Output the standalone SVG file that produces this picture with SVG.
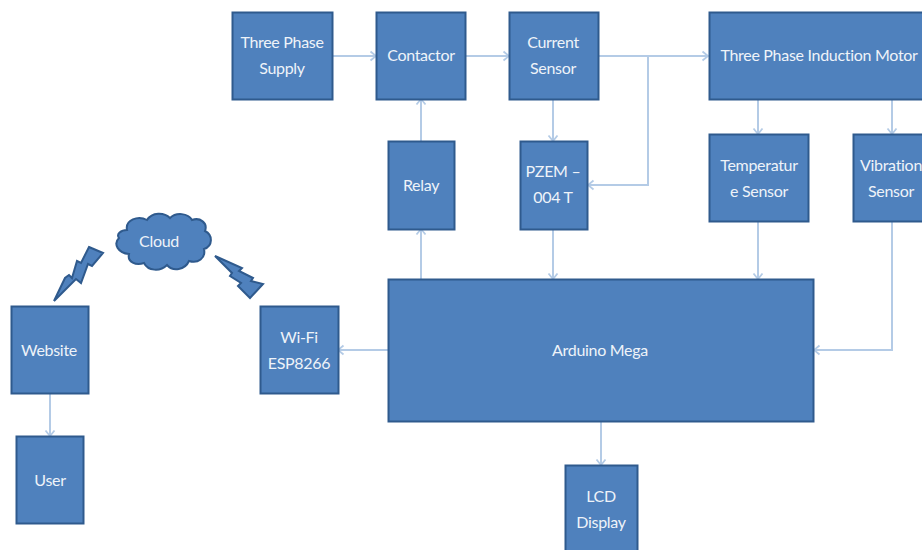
<svg xmlns="http://www.w3.org/2000/svg" width="922" height="550" viewBox="0 0 922 550">
<style>
.b{fill:#4f81bd;stroke:#2f5a8d;stroke-width:2}
.t{font-family:"Lato","Open Sans","Liberation Sans",sans-serif;font-size:16px;letter-spacing:-0.3px;fill:#eef3f9;text-anchor:middle}
.c{fill:none;stroke:#b4cbe6;stroke-width:2}
</style>
<defs>
<marker id="a" markerUnits="userSpaceOnUse" markerWidth="10" markerHeight="12" refX="8.500" refY="6" orient="auto"><path d="M3 1.500L8.500 6L3 10.500" fill="none" stroke="#b4cbe6" stroke-width="1.800"/></marker>
</defs>
<rect width="922" height="550" fill="#fff"/>
<g id="connectors" class="c">
<path d="M333 56H376" marker-end="url(#a)"/>
<path d="M466 56H509" marker-end="url(#a)"/>
<path d="M599 56H708" marker-end="url(#a)"/>
<path d="M648 56V185H588" marker-end="url(#a)"/>
<path d="M553 99V141" marker-end="url(#a)"/>
<path d="M421 141V99" marker-end="url(#a)"/>
<path d="M421 279V229" marker-end="url(#a)"/>
<path d="M553 229V279" marker-end="url(#a)"/>
<path d="M758 99V134" marker-end="url(#a)"/>
<path d="M892 99V134" marker-end="url(#a)"/>
<path d="M758 221V279" marker-end="url(#a)"/>
<path d="M892 221V350H814" marker-end="url(#a)"/>
<path d="M388 350H338" marker-end="url(#a)"/>
<path d="M601 422V465" marker-end="url(#a)"/>
<path d="M50 393V436" marker-end="url(#a)"/>
</g>
<g id="supply"><rect class="b" x="232.500" y="12.500" width="100" height="87"/><text class="t" x="282" y="48">Three Phase</text><text class="t" x="282" y="74">Supply</text></g>
<g id="contactor"><rect class="b" x="376.500" y="12.500" width="89" height="87"/><text class="t" x="421" y="61">Contactor</text></g>
<g id="current"><rect class="b" x="509.500" y="12.500" width="89" height="87"/><text class="t" x="553" y="48">Current</text><text class="t" x="553" y="74">Sensor</text></g>
<g id="motor"><rect class="b" x="709.500" y="12.500" width="240" height="87"/><text class="t" x="819" y="61">Three Phase Induction Motor</text></g>
<g id="relay"><rect class="b" x="388.500" y="141.500" width="66" height="88"/><text class="t" x="421" y="191">Relay</text></g>
<g id="pzem"><rect class="b" x="520.500" y="141.500" width="67" height="88"/><text class="t" x="553" y="177">PZEM –</text><text class="t" x="553" y="203">004 T</text></g>
<g id="temperature"><rect class="b" x="709.500" y="134.500" width="99" height="87"/><text class="t" x="759" y="171">Temperatur</text><text class="t" x="759" y="197">e Sensor</text></g>
<g id="vibration"><rect class="b" x="853.500" y="134.500" width="100" height="87"/><text class="t" x="891" y="171">Vibration</text><text class="t" x="891" y="197">Sensor</text></g>
<g id="arduino"><rect class="b" x="388.500" y="279.500" width="425" height="142"/><text class="t" x="600" y="356">Arduino Mega</text></g>
<g id="wifi"><rect class="b" x="260.500" y="306.500" width="78" height="87"/><text class="t" x="299" y="343">Wi-Fi</text><text class="t" x="299" y="369">ESP8266</text></g>
<g id="website"><rect class="b" x="11.500" y="306.500" width="77" height="87"/><text class="t" x="49" y="356">Website</text></g>
<g id="user"><rect class="b" x="16.500" y="436.500" width="67" height="87"/><text class="t" x="50" y="486">User</text></g>
<g id="lcd"><rect class="b" x="565.500" y="465.500" width="72" height="100"/><text class="t" x="601" y="502">LCD</text><text class="t" x="601" y="528">Display</text></g>
<g id="cloud"><path class="b" d="M127 230C125 220 138 215 147 220C152 212 164 212 170 218C176 212 188 213 192 220C200 217 208 223 205 231C213 235 213 246 204 249C206 258 198 264 189 261C185 270 173 272 167 265C160 272 148 271 144 263C136 266 127 262 129 254C118 253 113 244 119 238C116 234 121 230 127 230Z"/><text class="t" x="159" y="247">Cloud</text></g>
<g id="bolt-left"><path class="b" stroke-width="1" d="M89 247L103 253L92 266L88 264L81 283L76 279L54 301L65 278L69 275L72 278L77 261L81 263Z"/></g>
<g id="bolt-right"><path class="b" stroke-width="1" d="M215 256L242 268L239 271L253 278L251 281L263 284L250 298L238 286L241 283L230 276L232 273Z"/></g>
</svg>
